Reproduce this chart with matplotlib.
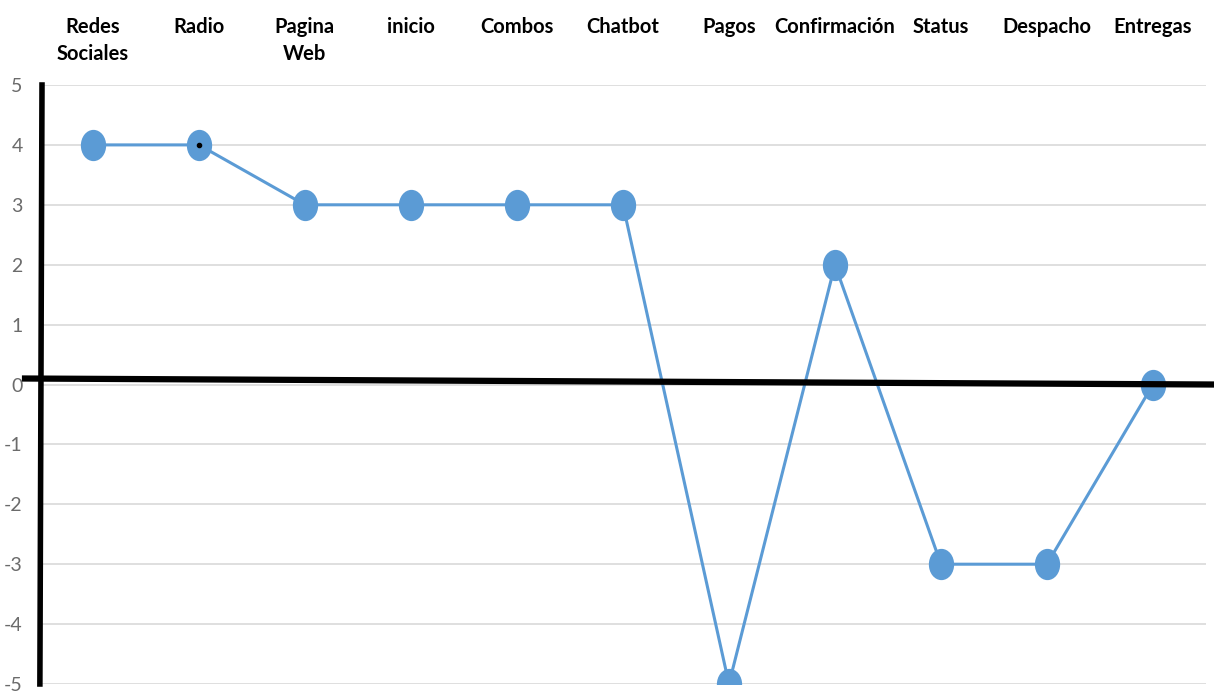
import numpy as np
import matplotlib.pyplot as plt
from matplotlib.path import Path

etapas = ['Redes\nSociales', 'Radio', 'Pagina\nWeb', 'inicio', 'Combos', 'Chatbot',
          'Pagos', 'Confirmación', 'Status', 'Despacho', 'Entregas']
valores = [4, 4, 3, 3, 3, 3, -5, 2, -3, -3, 0]
yticks = [5, 4, 3, 2, 1, 0, -1, -2, -3, -4, -5]

azul = '#5B9BD5'
fuente = ['Lato', 'DejaVu Sans']

# marcador eliptico (un poco mas alto que ancho)
circ = Path.unit_circle()
elipse = Path(circ.vertices * np.array([0.8, 1.0]), circ.codes)

fig = plt.figure(figsize=(12.14, 6.94), dpi=100)
ax = fig.add_axes([42/1214, 10/694, 1164/1214, 599/694])

x = np.arange(len(etapas))
ax.plot(x, valores, color=azul, lw=2.2, zorder=3)
ax.plot(x, valores, ls='none', marker=elipse, ms=21.5, color=azul, zorder=4)
ax.plot(x[1], valores[1], ls='none', marker='o', ms=3, color='black', zorder=5)

ax.set_xlim(-0.48, 10.5)
ax.set_ylim(-5, 5)
ax.set_yticks(yticks)
ax.set_yticklabels([str(v) for v in yticks], family=fuente, fontsize=14, color='#6b6b6b')
ax.tick_params(axis='y', length=0, pad=14)
ax.set_xticks([])
ax.grid(axis='y', color='#D9D9D9', lw=1.2)
ax.set_axisbelow(True)
for s in ax.spines.values():
    s.set_visible(False)

# ejes gruesos dibujados a mano
ax.plot([-0.48, -0.50], [5, -5], color='black', lw=4, clip_on=False, zorder=6)
ax.plot([-0.64, 10.56], [0.1, 0.0], color='black', lw=4.5, clip_on=False, zorder=6)

for xi, et in zip(x, etapas):
    ax.text(xi, 6.14, et, ha='center', va='top', family=fuente, fontsize=14.5,
            fontweight='bold', color='black', linespacing=1.45)

fig.savefig('out.png', dpi=100)
